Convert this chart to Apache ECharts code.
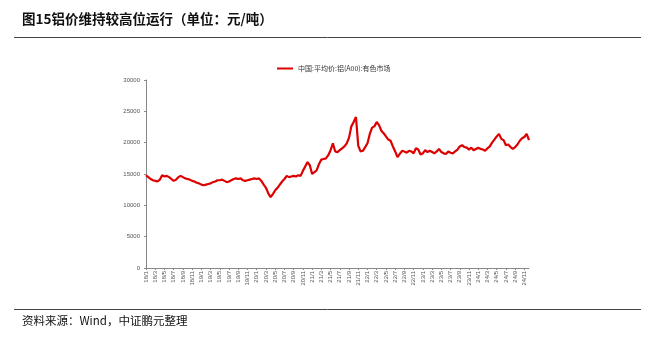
<!DOCTYPE html>
<html><head><meta charset="utf-8">
<script src="https://cdn.jsdelivr.net/npm/echarts@6/dist/echarts.min.js"></script>
<style>html,body{margin:0;padding:0;background:#fff}#c{width:670px;height:340px}</style>
</head><body><div id="c"></div>
<script>
// Semi-monthly observations (1st and 16th of each month), Jan 2018 – Dec 2024
const startYear = 2018, endYear = 2024;
const categories = [];
for (let y = startYear; y <= endYear; y++) {
  for (let m = 1; m <= 12; m++) {
    categories.push(y + '-' + String(m).padStart(2, '0') + '-01');
    if (!(y === endYear && m === 12)) categories.push(y + '-' + String(m).padStart(2, '0') + '-16');
  }
}
const seriesName = '中国:平均价:铝(A00):有色市场';
const alPrice = [
  // 2018
  14800,14500, 14200,14000, 13900,13800, 14100,14800, 14600,14700, 14500,14200,
  13900,14100, 14500,14700, 14500,14300, 14200,14100, 13900,13800, 13600,13500,
  // 2019
  13300,13200, 13300,13400, 13500,13700, 13800,14000, 14000,14100, 13900,13700,
  13800,14000, 14200,14300, 14200,14300, 14000,13900, 14000,14100, 14200,14300,
  // 2020
  14200,14300, 13900,13300, 12800,11900, 11300,11800, 12400,12800, 13300,13800,
  14200,14700, 14500,14600, 14700,14600, 14800,14700, 15500,16200, 16900,16400,
  // 2021
  15000,15300, 15600,16600, 17300,17400, 17500,18000, 18800,19900, 18600,18500,
  18800,19100, 19400,19900, 20800,22600, 23300,24100, 19500,18600, 18700,19300,
  // 2022
  19900,21400, 22400,22600, 23300,22800, 21900,21500, 21000,20500, 20300,19400,
  18600,17700, 18200,18700, 18600,18400, 18700,18600, 18300,19100, 18900,18100,
  // 2023
  18300,18800, 18500,18700, 18500,18300, 18600,19000, 18500,18300, 18200,18600,
  18400,18300, 18600,18900, 19400,19600, 19300,19200, 18900,19200, 18800,19000,
  // 2024
  19200,19000, 18900,18700, 19100,19400, 20000,20500, 21000,21400, 20600,20400,
  19600,19700, 19300,19000, 19300,19700, 20300,20700, 20900,21400, 20400
];
const yTicks = [0, 5000, 10000, 15000, 20000, 25000, 30000];
const titleText = '图15铝价维持较高位运行（单位：元/吨）';
const sourceText = '资料来源：Wind，中证鹏元整理';

function tickLabel(d) {
  const p = d.split('-');
  return p[0].slice(2) + '/' + parseInt(p[1], 10);
}

const chart = echarts.init(document.getElementById('c'), null, {renderer: 'canvas'});
chart.setOption({
  animation: false,
  backgroundColor: '#fff',
  graphic: [
    {type: 'text', left: 22, top: 12, style: {text: titleText, font: 'bold 13.5px "Noto Sans CJK SC"', fill: '#111'}},
    {type: 'line', shape: {x1: 14, y1: 37.5, x2: 641, y2: 37.5}, style: {stroke: '#444', lineWidth: 1}},
    {type: 'line', shape: {x1: 14, y1: 309.5, x2: 641, y2: 309.5}, style: {stroke: '#444', lineWidth: 1}},
    {type: 'text', left: 22, top: 315, style: {text: sourceText, font: '11.5px "Noto Sans CJK SC"', fill: '#111'}}
  ],
  legend: {
    data: [seriesName], left: 272, top: 60, icon: 'rect', itemWidth: 16, itemHeight: 2, itemGap: 4,
    textStyle: {fontSize: 7, color: '#333', fontFamily: '"Noto Sans CJK SC"'}
  },
  grid: {left: 146, right: 141, top: 80, bottom: 72},
  xAxis: {
    type: 'category', data: categories, boundaryGap: false,
    axisLine: {lineStyle: {color: '#888'}},
    axisTick: {show: true, interval: 3, length: 2, lineStyle: {color: '#888'}},
    axisLabel: {interval: 3, rotate: 90, fontSize: 6, color: '#555', margin: 3, formatter: tickLabel}
  },
  yAxis: {
    type: 'value', min: yTicks[0], max: yTicks[yTicks.length - 1], interval: 5000,
    axisLine: {show: true, lineStyle: {color: '#888'}},
    axisTick: {show: true, length: 2, lineStyle: {color: '#888'}},
    splitLine: {show: false},
    axisLabel: {fontSize: 6, color: '#555', margin: 6, formatter: v => String(v)}
  },
  series: [{
    name: seriesName, type: 'line', data: alPrice, showSymbol: false, symbol: 'none',
    lineStyle: {color: '#dd0000', width: 2.2}, itemStyle: {color: '#dd0000'}
  }]
});
</script></body></html>
